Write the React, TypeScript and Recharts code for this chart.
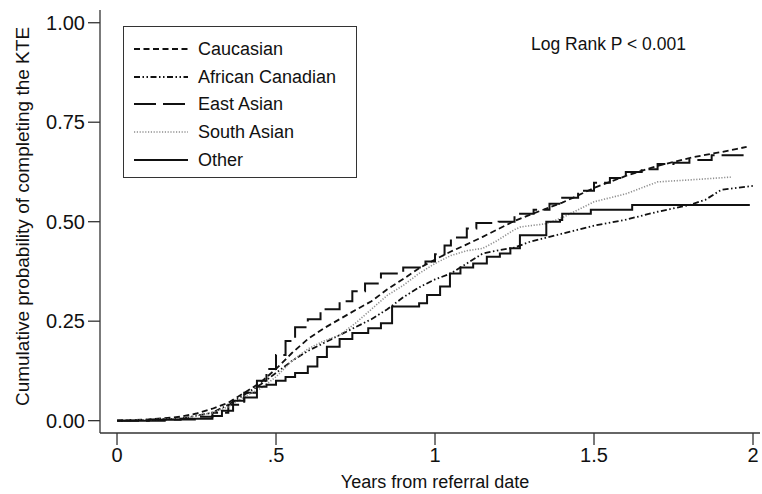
import React from 'react';
import { LineChart, Line, XAxis, YAxis, Legend } from 'recharts';

// ---- data ----
const xTicks = [0, 0.5, 1, 1.5, 2];
const yTicks = [0, 0.25, 0.5, 0.75, 1];

const caucasianT = [0, 0.1, 0.2, 0.25, 0.3, 0.35, 0.4, 0.45, 0.5, 0.55, 0.6, 0.65, 0.7, 0.75, 0.8, 0.85, 0.9, 0.95, 1.0, 1.05, 1.1, 1.15, 1.2, 1.25, 1.3, 1.35, 1.4, 1.45, 1.5, 1.55, 1.6, 1.65, 1.7, 1.75, 1.8, 1.85, 1.9, 1.95, 1.98];
const caucasianP = [0, 0.003, 0.01, 0.018, 0.03, 0.045, 0.07, 0.095, 0.13, 0.17, 0.205, 0.232, 0.255, 0.278, 0.3, 0.33, 0.356, 0.383, 0.405, 0.425, 0.443, 0.462, 0.482, 0.502, 0.518, 0.533, 0.548, 0.566, 0.585, 0.6, 0.615, 0.628, 0.64, 0.65, 0.66, 0.668, 0.675, 0.683, 0.688];

const africanT = [0, 0.2, 0.3, 0.35, 0.4, 0.45, 0.5, 0.55, 0.6, 0.65, 0.7, 0.75, 0.8, 0.85, 0.9, 0.95, 1.0, 1.05, 1.1, 1.15, 1.2, 1.25, 1.3, 1.4, 1.5, 1.6, 1.7, 1.8, 1.85, 1.9, 2.0];
const africanP = [0, 0.005, 0.02, 0.04, 0.065, 0.09, 0.12, 0.15, 0.175, 0.195, 0.215, 0.235, 0.255, 0.28, 0.31, 0.335, 0.355, 0.37, 0.395, 0.42, 0.428, 0.435, 0.45, 0.47, 0.49, 0.505, 0.525, 0.542, 0.555, 0.58, 0.59];

const eastAsianT = [0, 0.15, 0.25, 0.3, 0.35, 0.4, 0.44, 0.47, 0.5, 0.53, 0.56, 0.6, 0.64, 0.7, 0.74, 0.78, 0.83, 0.9, 0.97, 1.0, 1.03, 1.05, 1.1, 1.13, 1.2, 1.25, 1.31, 1.36, 1.4, 1.45, 1.5, 1.55, 1.6, 1.65, 1.7, 1.75, 1.8, 1.87, 1.98];
const eastAsianP = [0, 0.003, 0.01, 0.02, 0.04, 0.07, 0.1, 0.13, 0.165, 0.2, 0.235, 0.255, 0.28, 0.3, 0.325, 0.345, 0.37, 0.385, 0.4, 0.418, 0.44, 0.46, 0.483, 0.497, 0.5, 0.52, 0.53, 0.545, 0.56, 0.578, 0.598, 0.61, 0.625, 0.632, 0.645, 0.648, 0.655, 0.667, 0.667];

const southAsianT = [0, 0.2, 0.3, 0.35, 0.4, 0.45, 0.5, 0.55, 0.6, 0.65, 0.7, 0.75, 0.8, 0.85, 0.9, 0.95, 1.0, 1.05, 1.1, 1.15, 1.19, 1.25, 1.27, 1.35, 1.4, 1.45, 1.5, 1.6, 1.65, 1.7, 1.8, 1.93];
const southAsianP = [0, 0.005, 0.02, 0.035, 0.06, 0.08, 0.11, 0.15, 0.18, 0.2, 0.215, 0.245, 0.28, 0.315, 0.34, 0.37, 0.395, 0.415, 0.427, 0.433, 0.45, 0.48, 0.487, 0.495, 0.51, 0.53, 0.55, 0.57, 0.585, 0.6, 0.605, 0.612];

const otherT = [0, 0.1, 0.2, 0.3, 0.33, 0.365, 0.4, 0.44, 0.47, 0.5, 0.53, 0.56, 0.6, 0.63, 0.66, 0.7, 0.74, 0.79, 0.83, 0.865, 0.95, 0.975, 1.016, 1.047, 1.08, 1.12, 1.163, 1.204, 1.237, 1.267, 1.35, 1.393, 1.4, 1.49, 1.62, 1.99];
const otherP = [0, 0.002, 0.005, 0.012, 0.025, 0.05, 0.058, 0.085, 0.09, 0.1, 0.11, 0.12, 0.136, 0.16, 0.186, 0.205, 0.22, 0.232, 0.245, 0.287, 0.295, 0.316, 0.337, 0.37, 0.385, 0.395, 0.412, 0.42, 0.433, 0.466, 0.5, 0.504, 0.52, 0.53, 0.542, 0.542];

const seriesNames = ['Caucasian', 'African Canadian', 'East Asian', 'South Asian', 'Other'];

const toRows = (ts: number[], ps: number[]) => ts.map((t, i) => ({ t, p: ps[i] }));

type Curve = 'linear' | 'stepAfter';

const series: { name: string; data: { t: number; p: number }[]; stroke: string; width: number; dash?: string; curve: Curve }[] = [
  { name: seriesNames[0], data: toRows(caucasianT, caucasianP), stroke: '#111', width: 1.8, dash: '6 3.5', curve: 'linear' },
  { name: seriesNames[1], data: toRows(africanT, africanP), stroke: '#111', width: 1.8, dash: '6 2.5 1.5 2.5 1.5 2.5', curve: 'linear' },
  { name: seriesNames[2], data: toRows(eastAsianT, eastAsianP), stroke: '#111', width: 2, dash: '22 7', curve: 'stepAfter' },
  { name: seriesNames[3], data: toRows(southAsianT, southAsianP), stroke: '#8f8f8f', width: 1.6, dash: '1.2 1.6', curve: 'linear' },
  { name: seriesNames[4], data: toRows(otherT, otherP), stroke: '#111', width: 2, dash: undefined, curve: 'stepAfter' },
];

const FONT = '"Liberation Sans", Arial, Helvetica, sans-serif';

const LegendBox = () => (
  <div
    style={{
      width: 234,
      height: 152,
      boxSizing: 'border-box',
      border: '1.4px solid #333',
      background: '#fff',
      position: 'relative',
      fontFamily: FONT,
      fontSize: 18,
      color: '#111',
    }}
  >
    {series.map((s, i) => (
      <div
        key={s.name}
        style={{
          position: 'absolute',
          left: 0,
          top: 8 + i * 27.7,
          height: 27.7,
          display: 'flex',
          alignItems: 'center',
          whiteSpace: 'nowrap',
        }}
      >
        <svg width={65} height={10} style={{ marginLeft: 9, display: 'block' }}>
          <line x1={1} y1={5} x2={55} y2={5} stroke={s.stroke} strokeWidth={s.width} strokeDasharray={s.dash} />
        </svg>
        <span style={{ lineHeight: 1 }}>{s.name}</span>
      </div>
    ))}
  </div>
);

const YTitle = (props: any) => {
  const vb = props.viewBox || { x: 0, y: 10, width: 100, height: 423 };
  const cx = vb.x + 22;
  const cy = vb.y + vb.height / 2 - 5;
  return (
    <text
      x={cx}
      y={cy}
      transform={`rotate(-90 ${cx} ${cy})`}
      textAnchor="middle"
      dominantBaseline="central"
      fontFamily={FONT}
      fontSize={19}
      fill="#111"
    >
      Cumulative probability of completing the KTE
    </text>
  );
};

const XTitle = (props: any) => {
  const vb = props.viewBox || { x: 100, y: 433, width: 660, height: 61 };
  const cx = vb.x + vb.width / 2 + 5;
  const cy = vb.y + 55;
  return (
    <text x={cx} y={cy} textAnchor="middle" fontFamily={FONT} fontSize={18} fill="#111">
      Years from referral date
    </text>
  );
};

const fmtX = (v: number) => String(v).replace(/^0\./, '.');
const fmtY = (v: number) => v.toFixed(2);

export default function App() {
  return (
    <div style={{ position: 'absolute', left: 0, top: 0, width: 762, height: 494, background: '#fff' }}>
      <LineChart width={762} height={494} margin={{ top: 10, right: 2, left: 0, bottom: 0 }}>
        <XAxis
          type="number"
          dataKey="t"
          domain={[-0.0535, 2.022]}
          ticks={xTicks}
          tickFormatter={fmtX}
          allowDataOverflow
          height={61}
          tickSize={12}
          tickMargin={3}
          stroke="#333"
          strokeWidth={1.3}
          tick={{ fill: '#111', fontSize: 20, fontFamily: FONT }}
          label={{ content: (p: any) => <XTitle {...p} /> }}
        />
        <YAxis
          type="number"
          dataKey="p"
          domain={[-0.031, 1.032]}
          ticks={yTicks}
          tickFormatter={fmtY}
          allowDataOverflow
          width={100}
          tickSize={12}
          tickMargin={3}
          stroke="#333"
          strokeWidth={1.3}
          tick={{ fill: '#111', fontSize: 20, fontFamily: FONT }}
          label={{ content: (p: any) => <YTitle {...p} /> }}
        />
        <Legend
          layout="horizontal"
          verticalAlign="middle"
          align="center"
          wrapperStyle={{ left: 123, top: 26, width: 234, height: 152 }}
          content={() => <LegendBox />}
        />
        {series.map((s) => (
          <Line
            key={s.name}
            name={s.name}
            data={s.data}
            dataKey="p"
            type={s.curve}
            stroke={s.stroke}
            strokeWidth={s.width}
            strokeDasharray={s.dash}
            dot={false}
            activeDot={false}
            isAnimationActive={false}
          />
        ))}
      </LineChart>
      <svg width={762} height={494} style={{ position: 'absolute', left: 0, top: 0, pointerEvents: 'none' }}>
        <text x={531} y={50} fontFamily={FONT} fontSize={17.5} fill="#111">
          Log Rank P &lt; 0.001
        </text>
      </svg>
    </div>
  );
}
